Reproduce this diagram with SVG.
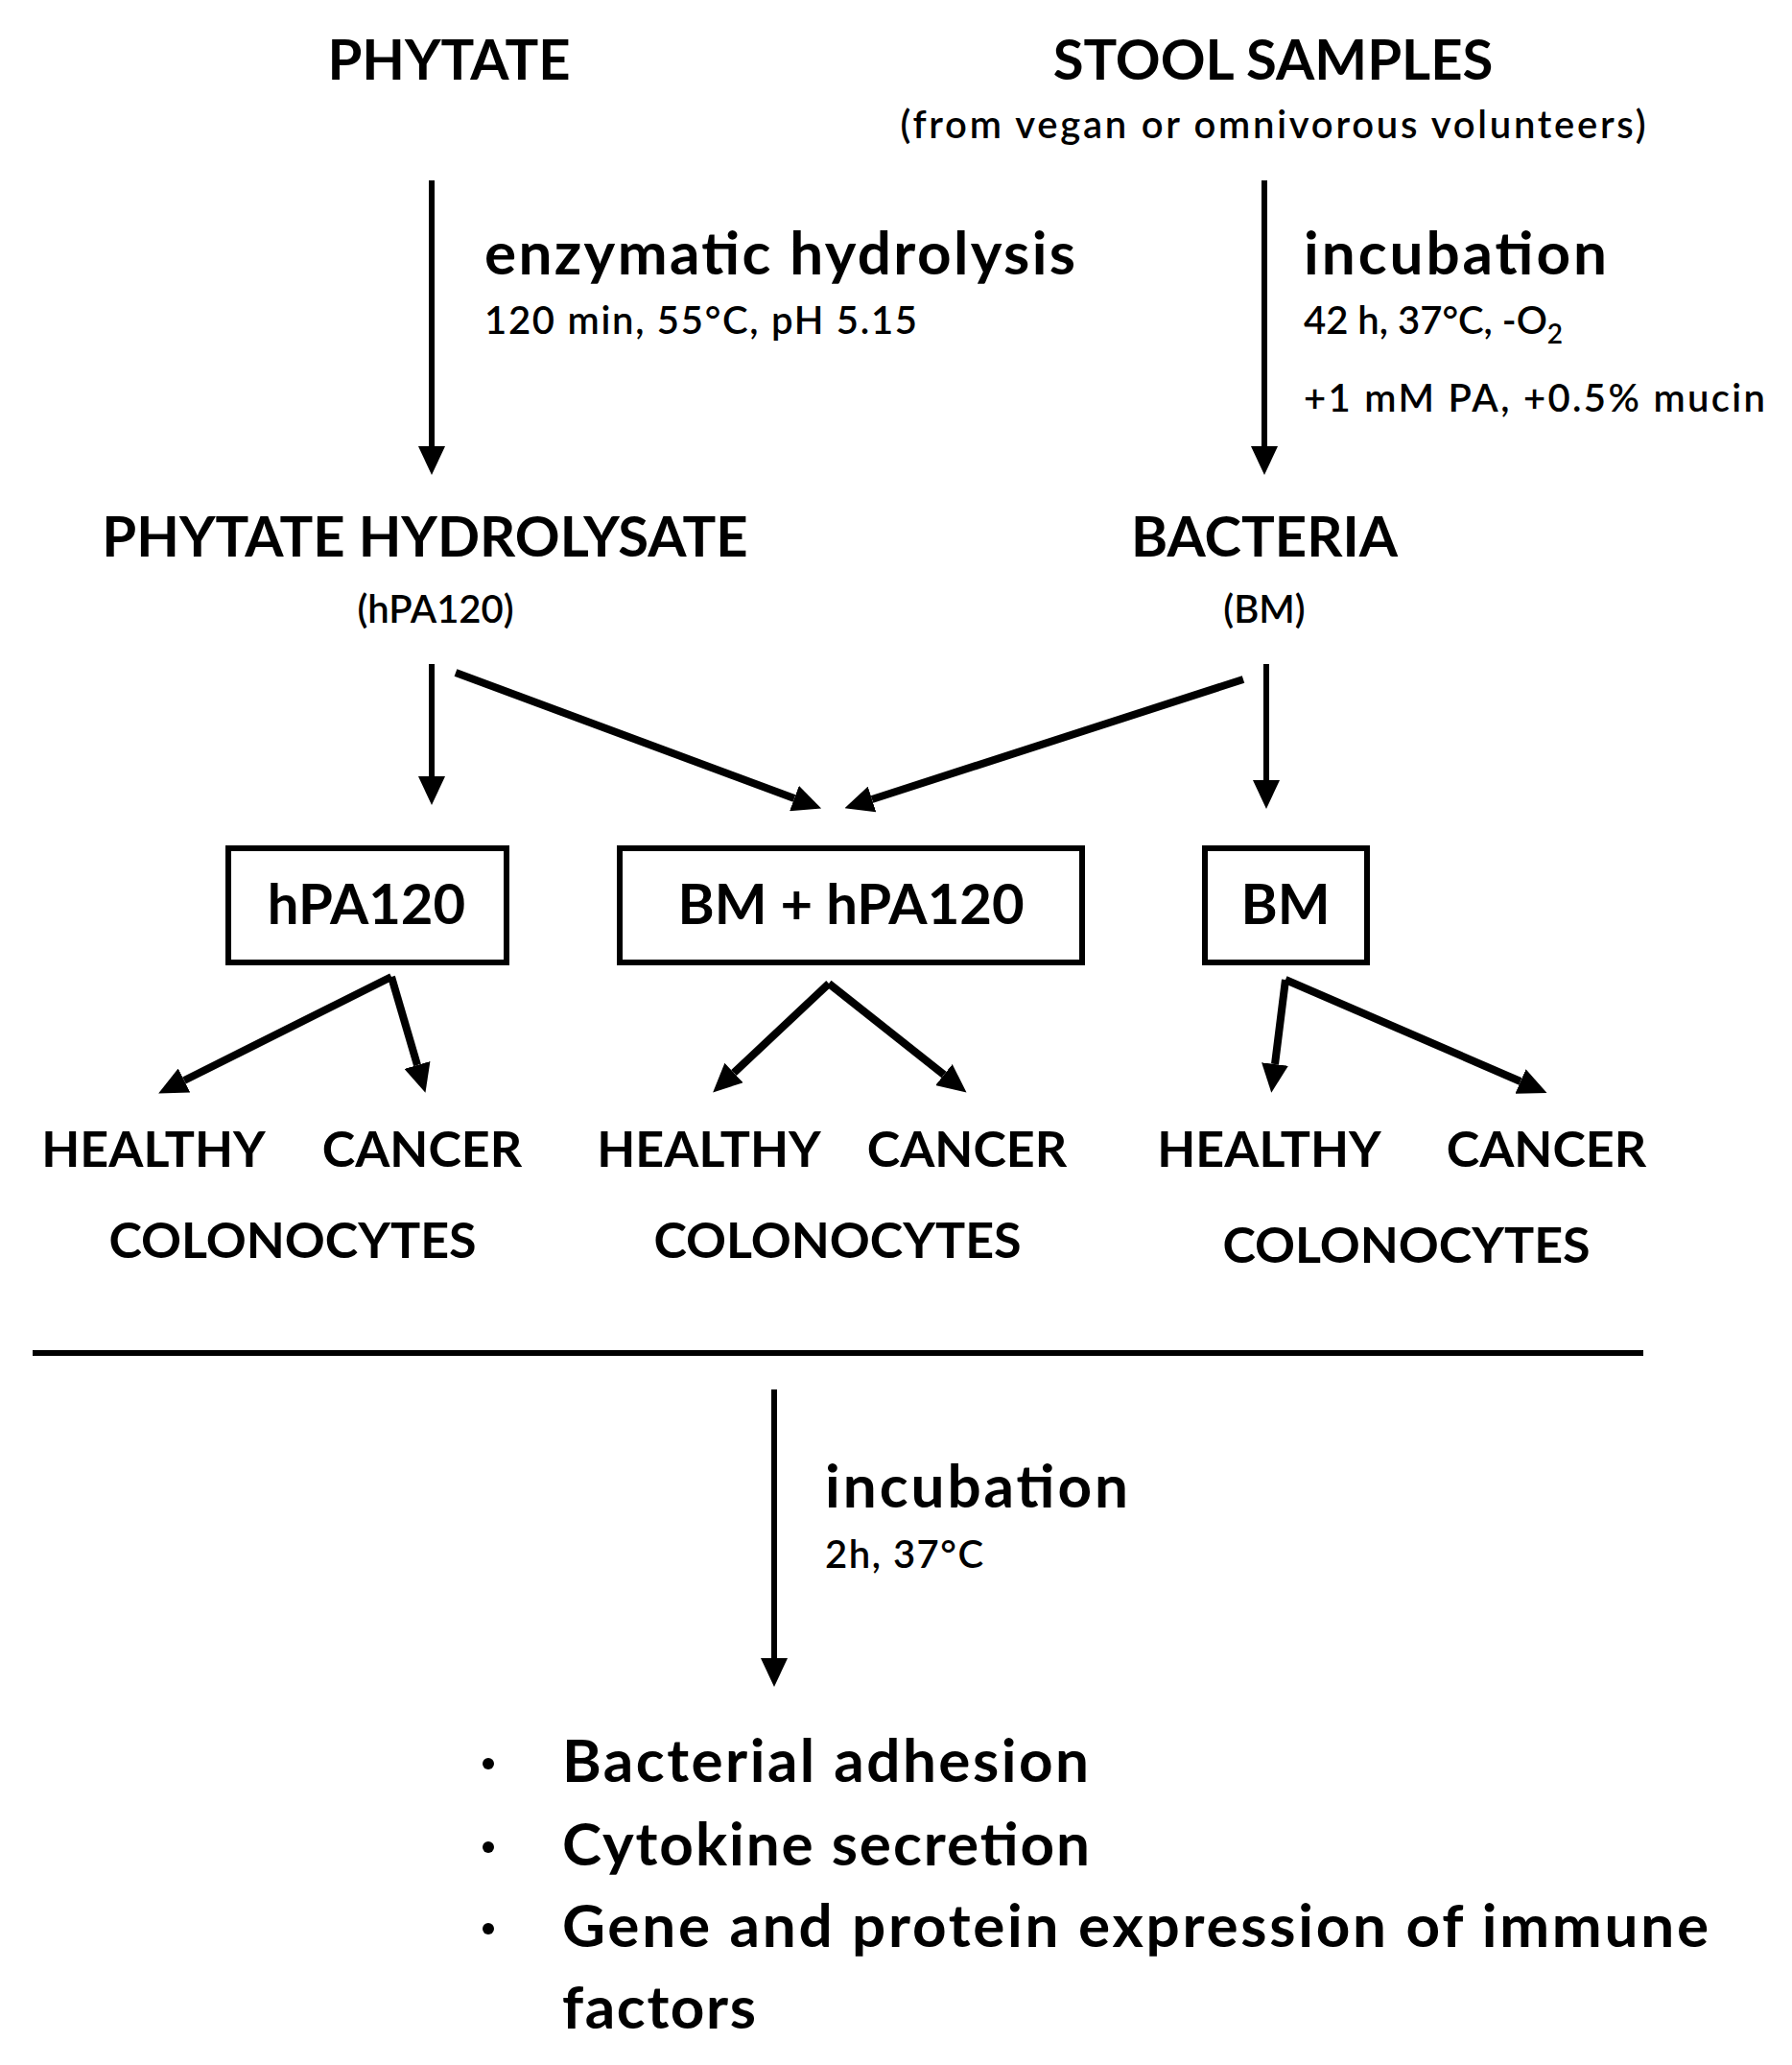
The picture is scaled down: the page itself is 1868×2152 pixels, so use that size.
<svg xmlns="http://www.w3.org/2000/svg" width="1868" height="2152" viewBox="0 0 1868 2152">
<style>
text{font-family:Lato,"Open Sans","Liberation Sans",sans-serif;font-weight:bold;fill:#000}
.big{font-size:58px}
.lw{font-size:62px}
.sm{font-size:40px;font-weight:600}
.mid{font-size:52px}
.c{text-anchor:middle}
.ln{stroke:#000;fill:none;stroke-width:6}
.th{stroke-width:8}
.box{fill:#fff;stroke:#000;stroke-width:6}
.bul{fill:#000}
</style>
<defs>
<marker id="ah" markerUnits="userSpaceOnUse" viewBox="0 0 30 28" markerWidth="30" markerHeight="28" refX="0" refY="14" orient="auto"><path d="M0,0 L30,14 L0,28 z" fill="#000"/></marker>
</defs>
<rect width="1868" height="2152" fill="#fff"/>
<g id="connectors">
<line class="ln" x1="450" y1="188" x2="450" y2="465" marker-end="url(#ah)"/>
<line class="ln" x1="1318" y1="188" x2="1318" y2="465" marker-end="url(#ah)"/>
<line class="ln" x1="450" y1="692" x2="450" y2="809" marker-end="url(#ah)"/>
<line class="ln th" x1="475" y1="701" x2="828" y2="832" marker-end="url(#ah)"/>
<line class="ln th" x1="1296" y1="708" x2="909" y2="833" marker-end="url(#ah)"/>
<line class="ln" x1="1320" y1="692" x2="1320" y2="813" marker-end="url(#ah)"/>
<line class="ln th" x1="408" y1="1018" x2="192" y2="1126" marker-end="url(#ah)"/>
<line class="ln th" x1="408" y1="1018" x2="435" y2="1110" marker-end="url(#ah)"/>
<line class="ln th" x1="864" y1="1025" x2="765" y2="1118" marker-end="url(#ah)"/>
<line class="ln th" x1="864" y1="1025" x2="984" y2="1120" marker-end="url(#ah)"/>
<line class="ln th" x1="1340" y1="1021" x2="1329" y2="1109" marker-end="url(#ah)"/>
<line class="ln th" x1="1340" y1="1021" x2="1585" y2="1127" marker-end="url(#ah)"/>
<line class="ln" x1="34" y1="1410" x2="1713" y2="1410" stroke-width="9"/>
<line class="ln" x1="807" y1="1448" x2="807" y2="1728" marker-end="url(#ah)"/>
</g>
<g id="phytate"><text class="big c" x="468" y="83">PHYTATE</text></g>
<g id="stool"><text class="big c" x="1327" y="83">STOOL SAMPLES</text><text class="sm c" x="1327" y="144" textLength="777">(from vegan or omnivorous volunteers)</text></g>
<g id="lbl-hydrolysis"><text class="lw" x="505" y="286" textLength="616">enzymatic hydrolysis</text><text class="sm" x="505" y="348" textLength="451">120 min, 55°C, pH 5.15</text></g>
<g id="lbl-incubation1"><text class="lw" x="1359" y="286" textLength="316">incubation</text><text class="sm" x="1359" y="348">42 h, 37°C, -O<tspan font-size="28" dy="10">2</tspan></text><text class="sm" x="1359" y="429" textLength="481">+1 mM PA, +0.5% mucin</text></g>
<g id="hydrolysate"><text class="big c" x="443" y="580">PHYTATE HYDROLYSATE</text><text class="sm c" x="454" y="649">(hPA120)</text></g>
<g id="bacteria"><text class="big c" x="1318" y="580">BACTERIA</text><text class="sm c" x="1318" y="649">(BM)</text></g>
<g id="box-hpa"><rect class="box" x="238" y="884" width="290" height="119"/><text class="big c" x="382" y="963">hPA120</text></g>
<g id="box-bmhpa"><rect class="box" x="646" y="884" width="482" height="119"/><text class="big c" x="887" y="963">BM + hPA120</text></g>
<g id="box-bm"><rect class="box" x="1256" y="884" width="169" height="119"/><text class="big c" x="1340" y="963">BM</text></g>
<g id="cells1"><text class="mid c" x="160" y="1216">HEALTHY</text><text class="mid c" x="440" y="1216">CANCER</text><text class="mid c" x="305" y="1311">COLONOCYTES</text></g>
<g id="cells2"><text class="mid c" x="739" y="1216">HEALTHY</text><text class="mid c" x="1008" y="1216">CANCER</text><text class="mid c" x="873" y="1311">COLONOCYTES</text></g>
<g id="cells3"><text class="mid c" x="1323" y="1216">HEALTHY</text><text class="mid c" x="1612" y="1216">CANCER</text><text class="mid c" x="1466" y="1316">COLONOCYTES</text></g>
<g id="lbl-incubation2"><text class="lw" x="860" y="1571" textLength="316">incubation</text><text class="sm" x="860" y="1634" textLength="165">2h, 37°C</text></g>
<g id="results">
<circle class="bul" cx="509" cy="1838" r="6"/><text class="lw" x="586" y="1857" textLength="549">Bacterial adhesion</text>
<circle class="bul" cx="509" cy="1925" r="6"/><text class="lw" x="586" y="1944" textLength="550">Cytokine secretion</text>
<circle class="bul" cx="509" cy="2010" r="6"/><text class="lw" x="586" y="2029" textLength="1195">Gene and protein expression of immune</text>
<text class="lw" x="586" y="2114" textLength="202">factors</text>
</g>
</svg>
